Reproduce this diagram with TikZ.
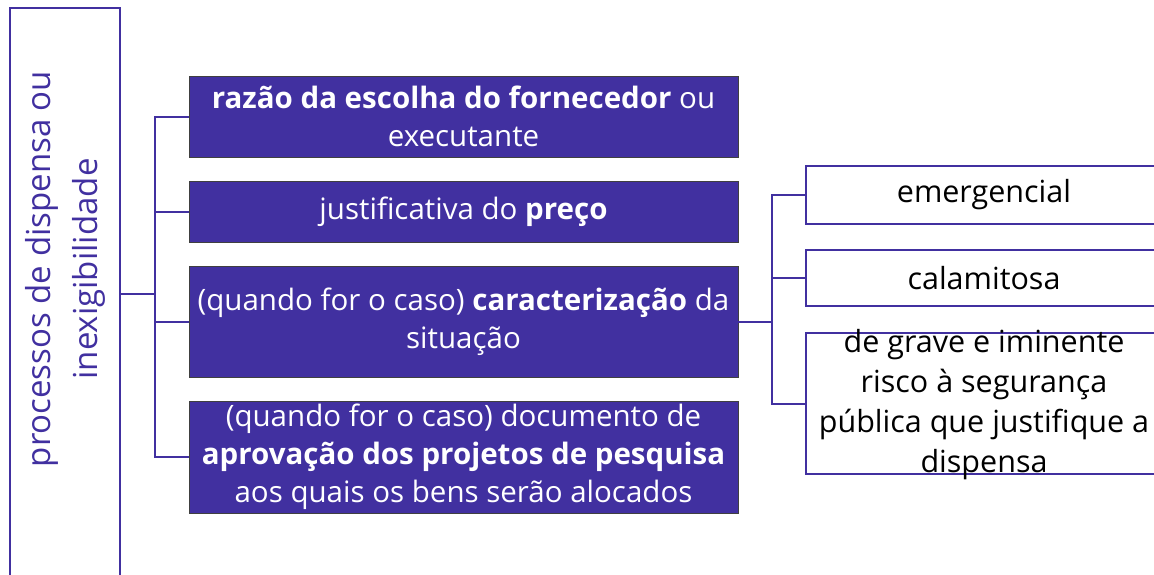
\documentclass[tikz,border=0pt]{standalone}
\usepackage{fontspec}
\setmainfont{Open Sans}
\usepackage{tikz}
\usetikzlibrary{positioning}

\definecolor{roxo}{RGB}{65,48,160}

\begin{document}
\begin{tikzpicture}[
                x=1pt, y=-1pt,
                raiz/.style={rectangle, draw=roxo, line width=1.5pt, text=roxo, rotate=90, minimum width=572pt, minimum height=110pt, font=\fontsize{33}{47}\selectfont},
                topico/.style={rectangle, draw=black!75, line width=0.8pt, fill=roxo, text=white, align=center, minimum width=549pt, inner sep=0pt, font=\fontsize{29.5}{38}\selectfont},
                caso/.style={rectangle, draw=roxo, line width=1.5pt, fill=white, text=black, align=center, minimum width=356pt, inner sep=0pt, font=\fontsize{30.5}{40}\selectfont},
                ligacao/.style={draw=roxo, line width=2pt}
            ]
            \useasboundingbox (0,0) rectangle (1154,574);

            %\node[raiz] (raiz) at (65,294) {processos de dispensa ou\\inexigibilidade};
            \node[raiz] (raiz) at (65,294) {\hspace*{50pt}\begin{tabular}{@{}c@{}}processos de dispensa ou\\inexigibilidade\end{tabular}};

            \node[topico, minimum height=81pt] (razao) at (463.5,116.5) {\textbf{razão da escolha do fornecedor} ou\\executante};
            \node[topico, minimum height=61pt] (preco) at (463.5,211.5) {justificativa do \textbf{preço}};
            \node[topico, minimum height=111pt] (situacao) at (463.5,321.5) {(quando for o caso) \textbf{caracterização} da\\situação};
            \node[topico, minimum height=112pt] (aprovacao) at (463.5,457) {(quando for o caso) documento de\\\textbf{aprovação dos projetos de pesquisa}\\aos quais os bens serão alocados};

            \node[caso, minimum height=58pt] (emergencial) at (984,195) {emergencial};
            \node[caso, minimum height=56pt] (calamitosa) at (984,278) {calamitosa};
            \node[caso, minimum height=141pt] (risco) at (984,403.5) {\raisebox{-7pt}[0pt][0pt]{\begin{tabular}{@{}c@{}}de grave e iminente\\risco à segurança\\pública que justifique a\\dispensa\end{tabular}}};

            \coordinate (split1) at (155,294);
            \coordinate (split2) at (772,321.5);

            \draw[ligacao] (raiz.south) -- (split1);
            \draw[ligacao] (split1) |- (razao.west);
            \draw[ligacao] (split1) |- (preco.west);
            \draw[ligacao] (split1) |- (situacao.west);
            \draw[ligacao] (split1) |- (aprovacao.west);

            \draw[ligacao] (situacao.east) -- (split2);
            \draw[ligacao] (split2) |- (emergencial.west);
            \draw[ligacao] (split2) |- (calamitosa.west);
            \draw[ligacao] (split2) |- (risco.west);
        \end{tikzpicture}
\end{document}
